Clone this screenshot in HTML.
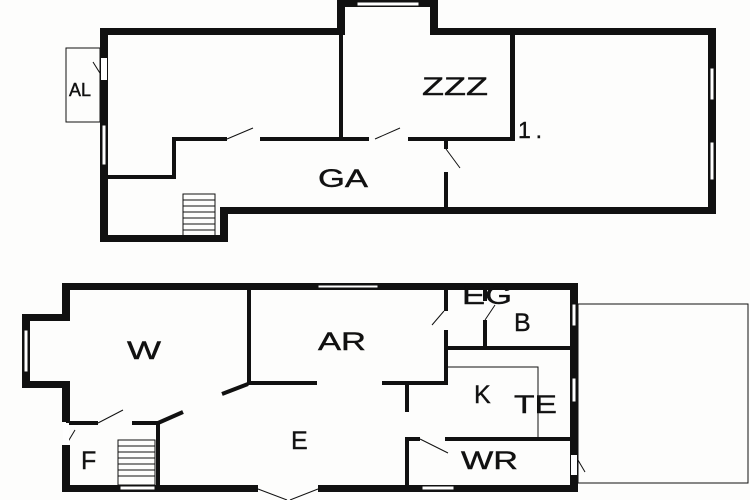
<!DOCTYPE html>
<html><head><meta charset="utf-8"><style>html,body{margin:0;padding:0;background:#fff}svg{display:block}text{font-family:"Liberation Sans",sans-serif;fill:#111}</style></head><body>
<svg width="750" height="500" viewBox="0 0 750 500" xmlns="http://www.w3.org/2000/svg">
<rect width="750" height="500" fill="#fdfdfc"/>
<g fill="#111">
<rect x="100" y="28" width="241" height="7"/>
<rect x="337" y="0" width="8" height="35"/>
<rect x="337" y="0" width="101" height="7"/>
<rect x="430" y="0" width="8" height="35"/>
<rect x="430" y="28" width="286" height="7"/>
<rect x="708" y="28" width="8" height="186"/>
<rect x="445" y="207" width="271" height="7"/>
<rect x="220" y="207" width="229" height="7"/>
<rect x="220" y="207" width="8" height="35"/>
<rect x="100" y="235" width="128" height="7"/>
<rect x="100" y="28" width="8" height="214"/>
<rect x="339" y="30" width="4" height="110"/>
<rect x="510" y="30" width="5" height="111"/>
<rect x="172" y="137" width="55" height="4"/>
<rect x="260" y="137" width="109" height="4"/>
<rect x="408" y="137" width="107" height="4"/>
<rect x="172" y="137" width="4" height="42"/>
<rect x="104" y="175" width="72" height="4"/>
<rect x="444" y="139" width="4" height="10"/>
<rect x="444" y="172" width="4" height="40"/>
<rect x="62" y="283" width="516" height="7"/>
<rect x="570" y="283" width="8" height="209"/>
<rect x="62" y="485" width="196" height="7"/>
<rect x="318" y="485" width="260" height="7"/>
<rect x="62" y="283" width="8" height="35"/>
<rect x="22" y="314" width="48" height="7"/>
<rect x="22" y="314" width="8" height="71"/>
<rect x="22" y="381" width="48" height="7"/>
<rect x="62" y="381" width="8" height="41"/>
<rect x="62" y="445" width="8" height="45"/>
<rect x="247" y="287" width="4" height="97"/>
<rect x="247" y="381" width="70" height="4"/>
<rect x="382" y="381" width="66" height="4"/>
<rect x="405" y="381" width="4" height="31"/>
<rect x="444" y="287" width="4" height="24"/>
<rect x="444" y="330" width="4" height="54"/>
<rect x="483" y="287" width="4" height="14"/>
<rect x="483" y="320" width="4" height="30"/>
<rect x="446" y="346" width="126" height="4"/>
<rect x="405" y="437" width="15" height="4"/>
<rect x="445" y="437" width="130" height="4"/>
<rect x="405" y="437" width="4" height="53"/>
<rect x="66" y="421" width="32" height="4"/>
<rect x="132" y="421" width="28" height="4"/>
<rect x="156" y="421" width="4" height="66"/>
</g>
<g stroke="#111" fill="none">
<line x1="222" y1="394" x2="248" y2="384" stroke-width="4"/>
<line x1="158" y1="423" x2="183" y2="412" stroke-width="4"/>
<g stroke-width="1">
<line x1="93" y1="62" x2="103" y2="78"/>
<line x1="227" y1="139" x2="253" y2="128"/>
<line x1="375" y1="139" x2="400" y2="128"/>
<line x1="446" y1="149" x2="460" y2="168"/>
<line x1="444" y1="311" x2="432" y2="325"/>
<line x1="485" y1="320" x2="495" y2="305"/>
<line x1="98" y1="423" x2="123" y2="410"/>
<line x1="66" y1="445" x2="75" y2="430"/>
<line x1="420" y1="439" x2="448" y2="453"/>
<line x1="575" y1="455" x2="585" y2="472"/>
<line x1="258" y1="489" x2="287" y2="500"/>
<line x1="318" y1="489" x2="290" y2="500"/>
<rect x="66" y="48" width="34" height="74"/>
<rect x="578" y="304" width="170" height="179"/>
<polyline points="448,367 538,367 538,438"/>
</g>
</g>
<g fill="#fff" stroke="#111" stroke-width="1">
<rect x="357" y="2" width="62" height="4"/>
<rect x="102" y="125" width="4" height="40"/>
<rect x="710" y="68" width="4" height="32"/>
<rect x="710" y="142" width="4" height="38"/>
<rect x="318" y="285" width="60" height="3"/>
<rect x="24" y="330" width="4" height="42"/>
<rect x="120" y="486" width="35" height="4"/>
<rect x="422" y="486" width="32" height="4"/>
<rect x="572" y="304" width="4" height="22"/>
<rect x="572" y="378" width="4" height="24"/>
</g>
<g fill="#fff">
<rect x="101" y="58" width="6" height="22"/>
<rect x="63" y="423" width="6" height="22"/>
<rect x="571" y="455" width="6" height="20"/>
</g>
<g stroke="#111" stroke-width="1" fill="none">
<rect x="183" y="194" width="32" height="44"/>
<line x1="183" y1="200" x2="215" y2="200"/><line x1="183" y1="206" x2="215" y2="206"/><line x1="183" y1="212" x2="215" y2="212"/><line x1="183" y1="218" x2="215" y2="218"/><line x1="183" y1="224" x2="215" y2="224"/><line x1="183" y1="230" x2="215" y2="230"/>
<rect x="118" y="440" width="37" height="45"/>
<line x1="118" y1="446" x2="155" y2="446"/><line x1="118" y1="452" x2="155" y2="452"/><line x1="118" y1="458" x2="155" y2="458"/><line x1="118" y1="464" x2="155" y2="464"/><line x1="118" y1="470" x2="155" y2="470"/><line x1="118" y1="476" x2="155" y2="476"/>
</g>
<g font-size="25" stroke="#111" stroke-width="0.4">
<text x="69" y="96" font-size="18" textLength="22" lengthAdjust="spacingAndGlyphs">AL</text>
<text x="422" y="95" textLength="66" lengthAdjust="spacingAndGlyphs">ZZZ</text>
<text x="518" y="138" font-size="23" textLength="24" lengthAdjust="spacing">1.</text>
<text x="318" y="187" textLength="50" lengthAdjust="spacingAndGlyphs">GA</text>
<text x="127" y="359" textLength="34" lengthAdjust="spacingAndGlyphs">W</text>
<text x="318" y="350" textLength="48" lengthAdjust="spacingAndGlyphs">AR</text>
<text x="462" y="304" textLength="50" lengthAdjust="spacingAndGlyphs">EG</text>
<text x="514" y="331">B</text>
<text x="474" y="403">K</text>
<text x="514" y="413" textLength="43" lengthAdjust="spacingAndGlyphs">TE</text>
<text x="291" y="449">E</text>
<text x="81" y="469">F</text>
<text x="461" y="469" textLength="57" lengthAdjust="spacingAndGlyphs">WR</text>
</g>
</svg>
</body></html>
